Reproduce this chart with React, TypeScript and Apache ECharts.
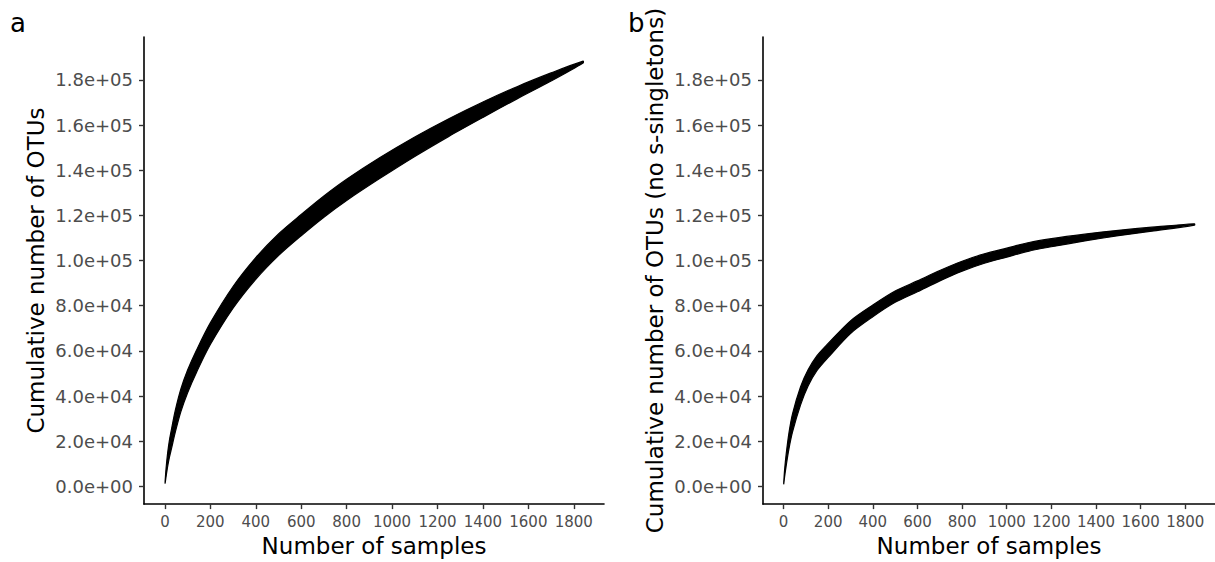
import React, { useEffect, useRef } from "react";
import * as echarts from "echarts";

// Panel a: all OTUs — band of rarefaction curves (lower / upper edge)
const samplesA = [1, 5, 12, 20, 30, 45, 70, 100, 140, 200, 300, 400, 500, 600, 700, 800, 947, 1100, 1250, 1400, 1550, 1700, 1841];
const lowerA = [1400, 4200, 8700, 12900, 17200, 23700, 33000, 41500, 50700, 62800, 78900, 91700, 102200, 111000, 119200, 126600, 136400, 146100, 155000, 163400, 171600, 179500, 187500];
const upperA = [2200, 7800, 14700, 20500, 25800, 33300, 43000, 51500, 60500, 72400, 88500, 101300, 111800, 120400, 128600, 136000, 145600, 154700, 162800, 170200, 177000, 183100, 188300];

// Panel b: no s-singletons
const samplesB = [1, 5, 12, 24, 40, 76, 110, 150, 200, 300, 400, 500, 600, 700, 800, 900, 1000, 1100, 1200, 1350, 1500, 1650, 1841];
const lowerB = [1100, 4400, 9200, 16500, 24000, 36000, 44400, 51300, 57100, 67700, 75100, 81500, 86200, 91000, 95300, 98800, 101500, 104200, 106100, 108700, 111000, 113000, 115700];
const upperB = [1900, 7600, 14400, 23500, 32000, 44000, 51600, 57900, 63300, 73300, 80300, 86500, 91000, 95600, 99700, 103000, 105500, 108000, 109700, 111700, 113400, 114800, 116300];

const xTicks = [0, 200, 400, 600, 800, 1000, 1200, 1400, 1600, 1800];
const xTickLabels = ["0", "200", "400", "600", "800", "1000", "1200", "1400", "1600", "1800"];
const yTicks = [0, 20000, 40000, 60000, 80000, 100000, 120000, 140000, 160000, 180000];
const yTickLabels = ["0.0e+00", "2.0e+04", "4.0e+04", "6.0e+04", "8.0e+04", "1.0e+05", "1.2e+05", "1.4e+05", "1.6e+05", "1.8e+05"];

const xTitle = "Number of samples";
const yTitleA = "Cumulative number of OTUs";
const yTitleB = "Cumulative number of OTUs (no s-singletons)";
const panelLabels = ["a", "b"];

const FONT = "DejaVu Sans";

function xAxisCfg(gridIndex: number) {
  return {
    type: "value",
    gridIndex,
    min: -92,
    max: 1933,
    splitLine: { show: false },
    axisLine: { show: true, onZero: false, lineStyle: { color: "#000", width: 1.6 } },
    axisTick: { show: true, length: 5, customValues: xTicks, lineStyle: { color: "#333", width: 1.4 } },
    axisLabel: {
      customValues: xTicks,
      color: "#4d4d4d",
      fontSize: 15,
      margin: 10,
      fontFamily: FONT,
      formatter: (v: number) => {
        const i = xTicks.indexOf(v);
        return i >= 0 ? xTickLabels[i] : "";
      },
    },
    name: xTitle,
    nameLocation: "middle",
    nameGap: 28,
    nameTextStyle: { fontSize: 23, color: "#000", fontFamily: FONT },
  };
}

function yAxisCfg(gridIndex: number, title: string) {
  return {
    type: "value",
    gridIndex,
    min: -7850,
    max: 199000,
    splitLine: { show: false },
    axisLine: { show: true, onZero: false, lineStyle: { color: "#000", width: 1.6 } },
    axisTick: { show: true, length: 5, customValues: yTicks, lineStyle: { color: "#333", width: 1.4 } },
    axisLabel: {
      customValues: yTicks,
      color: "#4d4d4d",
      fontSize: 18,
      margin: 11,
      fontFamily: FONT,
      formatter: (v: number) => {
        const i = yTicks.indexOf(v);
        return i >= 0 ? yTickLabels[i] : "";
      },
    },
    name: title,
    nameLocation: "middle",
    nameGap: 97,
    nameTextStyle: { fontSize: 23, color: "#000", fontFamily: FONT },
  };
}

function bandSeries(idx: number, samples: number[], lower: number[], upper: number[]) {
  return {
    type: "custom",
    xAxisIndex: idx,
    yAxisIndex: idx,
    silent: true,
    clip: true,
    data: samples.map((s, i) => [s, lower[i], upper[i]]),
    encode: { x: 0, y: [1, 2] },
    renderItem: (params: any, api: any) => {
      if (params.dataIndexInside !== 0) return null;
      const n = params.dataInsideLength;
      const top: number[][] = [];
      const bottom: number[][] = [];
      for (let i = 0; i < n; i++) {
        const x = api.value(0, i);
        top.push(api.coord([x, api.value(2, i)]));
        bottom.push(api.coord([x, api.value(1, i)]));
      }
      const pts = top.concat(bottom.reverse());
      return {
        type: "polygon",
        shape: { points: pts, smooth: 0.3, smoothConstraint: false },
        style: { fill: "#000", stroke: "#000", lineWidth: 1.2 },
      };
    },
  };
}

export default function App() {
  const ref = useRef<HTMLDivElement>(null);
  useEffect(() => {
    if (!ref.current) return;
    const chart = echarts.init(ref.current, undefined, { renderer: "svg" });
    chart.setOption({
      animation: false,
      backgroundColor: "#fff",
      grid: [
        { left: 144, top: 37, width: 460, height: 474 },
        { left: 763, top: 37, width: 460, height: 474 },
      ],
      xAxis: [xAxisCfg(0), xAxisCfg(1)],
      yAxis: [yAxisCfg(0, yTitleA), yAxisCfg(1, yTitleB)],
      series: [
        bandSeries(0, samplesA, lowerA, upperA),
        bandSeries(1, samplesB, lowerB, upperB),
      ],
      graphic: [
        { type: "text", left: 10, top: 10, style: { text: panelLabels[0], fontSize: 26, fill: "#000", fontFamily: FONT } },
        { type: "text", left: 628, top: 10, style: { text: panelLabels[1], fontSize: 26, fill: "#000", fontFamily: FONT } },
      ],
    });
    return () => chart.dispose();
  }, []);
  return <div ref={ref} style={{ position: "absolute", left: 0, top: 0, width: 1215, height: 562 }} />;
}
